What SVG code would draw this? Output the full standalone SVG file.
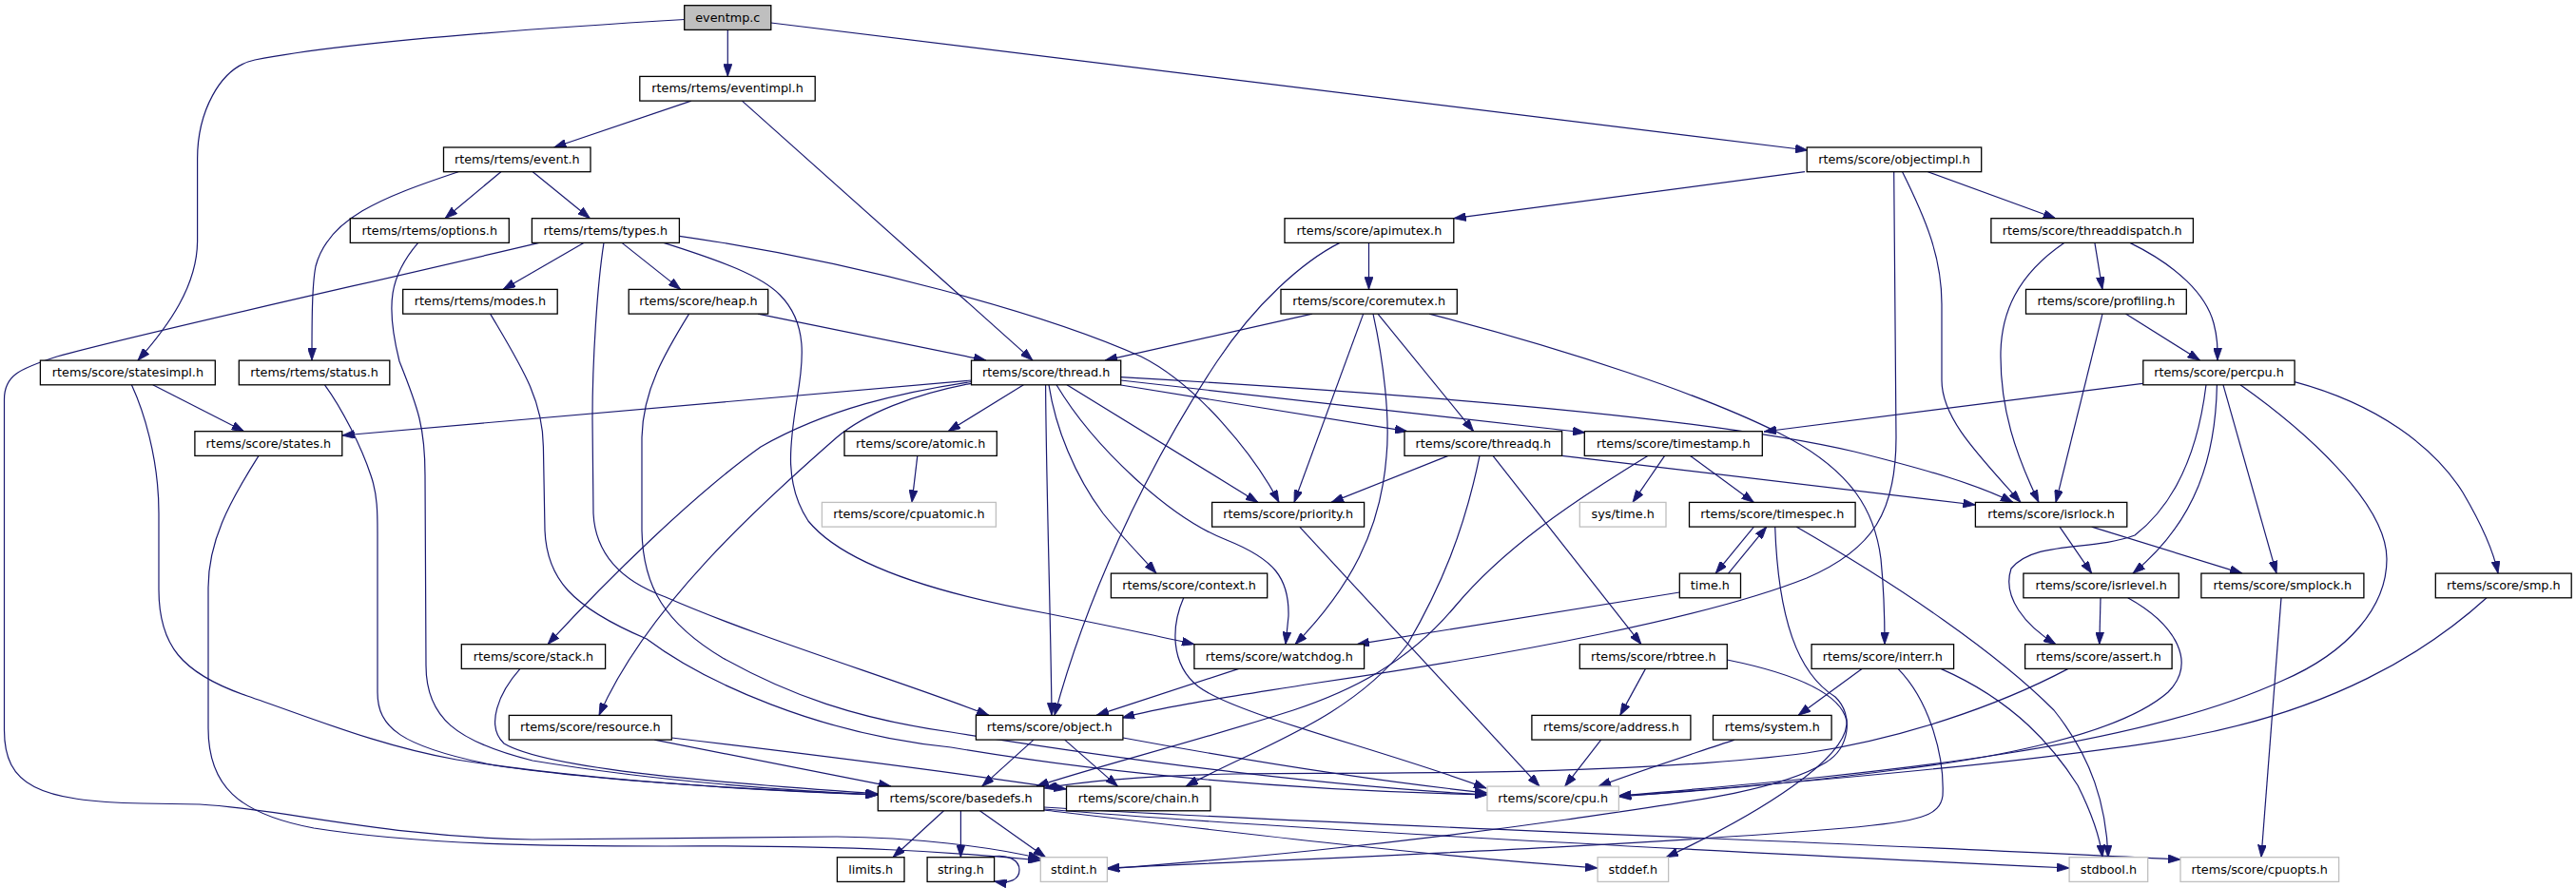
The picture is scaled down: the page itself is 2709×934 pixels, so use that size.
<svg xmlns="http://www.w3.org/2000/svg" width="2709" height="934" viewBox="0 0 2709 934">
<style>
.n rect{fill:#fff;stroke:#000;stroke-width:1.3}
.g rect{fill:#fff;stroke:#bfbfbf;stroke-width:1.3}
.r rect{fill:#bfbfbf;stroke:#000;stroke-width:1.3}
text{font-family:"DejaVu Sans","Liberation Sans",sans-serif;font-size:12.8px;text-anchor:middle;fill:#000}
#edges path{fill:none;stroke:#191970;stroke-width:1.2;marker-end:url(#ah)}
</style>
<defs>
<marker id="ah" viewBox="0 0 13 9" refX="13" refY="4.5" markerWidth="13" markerHeight="9" markerUnits="userSpaceOnUse" orient="auto"><path d="M0,0 L13,4.5 L0,9 z" fill="#191970" stroke="#191970" stroke-width="0.8"/></marker>
</defs>
<rect width="2709" height="934" fill="#fff"/>
<g id="edges">
<path d="M765.3,31.4 L765.3,80.4"/>
<path d="M719.7,20.5 C560,30 360,45 268,63 C230,71 207.6,120 207.6,167 L207.6,253 C207.6,300 178,342 145,379.1"/>
<path d="M810.8,24 L1901,158"/>
<path d="M726.9,106.1 L582.6,155"/>
<path d="M780.4,106.1 L1086,379.1"/>
<path d="M526.8,180.7 L468,229.7"/>
<path d="M560.3,180.7 L620.5,229.7"/>
<path d="M482,180.7 C400,208 345,230 332,280 C328,300 328,340 328,379.1"/>
<path d="M439.7,255.4 C410,290 405,320 420,380 C440,430 447,450 447,500 L448,700 C448,755 480,780 560,800 C680,820 800,830 923.3,836"/>
<path d="M341.5,404.8 C360,430 380,470 390,500 C397,520 397,540 397,560 L397,728 C397,765 420,785 520,805 C640,823 800,831 923.3,836"/>
<path d="M160.7,404.8 L256.7,453.7"/>
<path d="M138.4,404.8 C150,430 167,480 167,540 L167,620 C167,678 190,708 260,732 C330,756 400,785 480,799 C600,818 760,830 923.3,836"/>
<path d="M613.8,255.4 L529,304.4"/>
<path d="M654,255.4 L715.7,304.4"/>
<path d="M714.4,248.3 C900,275 1100,330 1200,375 C1260,405 1320,480 1345,528.4"/>
<path d="M697.9,255.4 C760,275 800,290 820,310 C850,340 845,380 838,420 C830,470 825,510 850,548 C890,597 1000,627 1100,645 C1160,657 1210,667 1256,677.7"/>
<path d="M635,255.4 C628,300 623,380 623,440 L624,540 C626,580 650,610 700,628 C800,672 950,717 1040,752.4"/>
<path d="M567,255.4 C400,295 150,350 60,375 C20,388 4.5,395 4.5,420 L4.5,768 C4.5,826 40,843 150,845 L210,846 C300,851 400,880 560,883 L880,880 C960,881 1040,890 1094.3,903"/>
<path d="M515.6,330.1 C548,385 571,420 571.4,470 L573,558 C575,608 600,638 680,672 C740,717 860,772 1000,786 C1200,820 1400,832 1564,836"/>
<path d="M797,330.1 L1037,379.1"/>
<path d="M724.6,330.1 C700,370 676,410 675,460 L675,558 C676,618 700,656 760,692 C830,731 900,756 1000,770 C1200,802 1400,827 1564,836"/>
<path d="M272,479.4 C240,530 219,570 219,618 L219,766 C219,826 250,856 330,871 C450,890 600,890 700,890 C900,889 1000,896 1094.3,905"/>
<path d="M1021.5,400 L359.8,458"/>
<path d="M1021.5,401.5 C950,412 870,430 800,470 C730,520 640,608 576,677.7"/>
<path d="M1021.5,403.3 C960,415 910,435 880,460 C800,530 680,638 630,752.4"/>
<path d="M1076.4,404.8 L997,453.7"/>
<path d="M1099.6,404.8 C1100,500 1105,650 1106,752.4"/>
<path d="M1103,404.8 C1110,450 1130,500 1160,540 C1180,565 1200,585 1216,603.1"/>
<path d="M1111,404.8 C1150,470 1230,545 1290,568 C1340,588 1356,608 1355,648 L1352,677.7"/>
<path d="M1122,404.8 L1323,528.4"/>
<path d="M1178.7,405 L1480,453.7"/>
<path d="M1178.7,400 L1667,455"/>
<path d="M1178.7,396.7 C1500,415 1800,440 1950,475 C2030,495 2080,510 2117,528.4"/>
<path d="M1380,330.1 L1162,379.1"/>
<path d="M1433.7,330.1 L1361,528.4"/>
<path d="M1444,330.1 C1455,380 1462,440 1458,480 C1452,558 1420,618 1362,677.7"/>
<path d="M1449,330.1 L1549.7,453.7"/>
<path d="M1503,330.1 C1650,368 1790,415 1870,455 C1950,495 1972,540 1978,588 C1982,628 1982,658 1982,677.7"/>
<path d="M1439.5,255.4 L1439.5,304.4"/>
<path d="M1409,255.4 C1370,275 1320,320 1280,380 C1200,500 1140,637 1109,752.4"/>
<path d="M1898,180.7 L1528.8,229.7"/>
<path d="M1991.7,180.7 L1994,460 C1994,538 1970,578 1900,608 C1800,648 1600,687 1380,719 C1300,732 1230,742 1180,755"/>
<path d="M2000.6,180.7 C2025,230 2042,270 2042,320 L2042,400 C2042,440 2080,478 2125,528.4"/>
<path d="M2027.4,180.7 L2161.8,229.7"/>
<path d="M2202.9,255.4 L2210.9,304.4"/>
<path d="M2239.9,255.4 C2290,280 2320,310 2328,340 C2332,355 2332,365 2332,379.1"/>
<path d="M2170.7,255.4 C2120,290 2105,330 2104,370 C2103,430 2120,478 2144,528.4"/>
<path d="M2235.4,330.1 L2313.6,379.1"/>
<path d="M2211,330.1 L2162,528.4"/>
<path d="M2253.3,403.3 L1855,454"/>
<path d="M2320,404.8 C2312,470 2290,528 2245,563 C2200,580 2140,568 2115,598 C2105,628 2130,658 2162,677.7"/>
<path d="M2331.4,404.8 C2330,480 2310,548 2243,603.1"/>
<path d="M2338,404.8 L2394,603.1"/>
<path d="M2356,404.8 C2420,450 2510,528 2510,588 C2510,638 2470,686 2400,716 C2250,785 2000,812 1702.4,837"/>
<path d="M2413,401.7 C2500,425 2560,470 2590,518 C2610,552 2622,578 2627,603.1"/>
<path d="M2166,554.1 L2199.7,603.1"/>
<path d="M2199.7,554.1 L2358,603.1"/>
<path d="M2209,628.8 L2207.8,677.7"/>
<path d="M2237.7,628.8 C2290,658 2310,698 2280,728 C2230,772 2100,797 2000,809 C1900,822 1800,832 1702.4,837"/>
<path d="M2175,703.4 C2100,743 2000,777 1900,792 C1700,818 1400,812 1300,814 C1200,816 1140,822 1098.3,829"/>
<path d="M2399,628.8 L2378,901.7"/>
<path d="M2615,628.8 C2550,688 2450,747 2300,775 C2150,801 1900,822 1702.4,838"/>
<path d="M1958,703.4 L1891,752.4"/>
<path d="M2041,703.4 C2120,738 2160,787 2185,826 C2200,856 2208,878 2211,901.7"/>
<path d="M1996,703.4 C2030,738 2045,797 2043,837 C2040,858 2020,864 1940,871 C1700,891 1400,902 1164.4,913"/>
<path d="M1844.4,554.1 L1804.2,603.1"/>
<path d="M1817.6,603.1 L1857.8,554.1"/>
<path d="M1889,554.1 C2000,618 2100,687 2160,747 C2200,797 2215,847 2217,901.7"/>
<path d="M1866.7,554.1 C1870,650 1890,708 1930,733 C1950,752 1945,787 1920,802 C1870,832 1780,843 1640,863 C1450,890 1300,903 1164.4,914"/>
<path d="M1816.3,694 C1880,707 1935,727 1942,758 C1945,797 1850,856 1752,901.7"/>
<path d="M1730.5,703.4 L1703.75,752.4"/>
<path d="M1683.7,778.1 L1645.7,827.1"/>
<path d="M1824,778.1 C1780,793 1720,812 1681,827.1"/>
<path d="M1366.7,554.1 L1619,827.1"/>
<path d="M1244.7,628.8 C1232,658 1230,698 1260,722 C1300,752 1450,787 1563,829"/>
<path d="M1180.9,776 C1300,798 1450,822 1564,834"/>
<path d="M1087,778.1 L1032.7,827.1"/>
<path d="M1119.7,778.1 L1175.5,827.1"/>
<path d="M1302.8,703.4 L1153,752.4"/>
<path d="M1766.3,623 L1427,677.7"/>
<path d="M1523,479.4 L1400,528.4"/>
<path d="M1570,479.4 L1726,677.7"/>
<path d="M1556,479.4 C1540,558 1515,618 1480,678 C1420,757 1320,787 1247,827.1"/>
<path d="M1642.6,479.4 L2077.4,531"/>
<path d="M1750.6,479.4 L1717,528.4"/>
<path d="M1777.4,479.4 L1844.4,528.4"/>
<path d="M1732.8,479.4 C1650,530 1580,578 1530,638 C1480,698 1420,727 1360,747 C1250,782 1150,807 1090,827.1"/>
<path d="M964.8,479.4 L959,528.4"/>
<path d="M547,703.4 C525,728 510,763 530,782 C580,812 800,826 923.3,835"/>
<path d="M688.3,778.1 L937,827.1"/>
<path d="M706.3,776 C850,793 1000,812 1121.5,830"/>
<path d="M992.5,852.8 L939,901.7"/>
<path d="M1010.4,852.8 L1010.4,901.7"/>
<path d="M1030.4,852.8 L1099.6,901.7"/>
<path d="M1097.9,852 C1300,876 1500,900 1680.1,913"/>
<path d="M1097.9,849 C1400,868 1900,884 2293,904"/>
<path d="M1097.9,851 C1400,876 1900,900 2176.1,913"/>
<path d="M1040,901.7 C1060,897 1072,905 1072,915 C1072,925 1062,930 1045.6,927"/>
</g>
<g id="n_eventmp" class="r"><rect x="719.7" y="5.7" width="91.1" height="25.7"/><text x="765.3" y="22.5">eventmp.c</text></g>
<g id="n_eventimpl" class="n"><rect x="672.8" y="80.4" width="184.4" height="25.7"/><text x="765" y="97.2">rtems/rtems/eventimpl.h</text></g>
<g id="n_objectimpl" class="n"><rect x="1900.2" y="155" width="183.5" height="25.7"/><text x="1992" y="171.8">rtems/score/objectimpl.h</text></g>
<g id="n_event" class="n"><rect x="466.5" y="155" width="154.5" height="25.7"/><text x="543.8" y="171.8">rtems/rtems/event.h</text></g>
<g id="n_options" class="n"><rect x="368.3" y="229.7" width="167" height="25.7"/><text x="451.8" y="246.5">rtems/rtems/options.h</text></g>
<g id="n_types" class="n"><rect x="559.4" y="229.7" width="155" height="25.7"/><text x="636.9" y="246.5">rtems/rtems/types.h</text></g>
<g id="n_apimutex" class="n"><rect x="1351" y="229.7" width="177.8" height="25.7"/><text x="1439.9" y="246.5">rtems/score/apimutex.h</text></g>
<g id="n_threaddispatch" class="n"><rect x="2093.9" y="229.7" width="212.5" height="25.7"/><text x="2200.2" y="246.5">rtems/score/threaddispatch.h</text></g>
<g id="n_modes" class="n"><rect x="423.7" y="304.4" width="162.5" height="25.7"/><text x="505" y="321.2">rtems/rtems/modes.h</text></g>
<g id="n_heap" class="n"><rect x="661.2" y="304.4" width="146.5" height="25.7"/><text x="734.5" y="321.2">rtems/score/heap.h</text></g>
<g id="n_coremutex" class="n"><rect x="1347" y="304.4" width="185.3" height="25.7"/><text x="1439.7" y="321.2">rtems/score/coremutex.h</text></g>
<g id="n_profiling" class="n"><rect x="2130.5" y="304.4" width="168.8" height="25.7"/><text x="2214.9" y="321.2">rtems/score/profiling.h</text></g>
<g id="n_statesimpl" class="n"><rect x="42.4" y="379.1" width="183.9" height="25.7"/><text x="134.4" y="395.9">rtems/score/statesimpl.h</text></g>
<g id="n_status" class="n"><rect x="251.3" y="379.1" width="158.5" height="25.7"/><text x="330.6" y="395.9">rtems/rtems/status.h</text></g>
<g id="n_thread" class="n"><rect x="1021.5" y="379.1" width="157.2" height="25.7"/><text x="1100.1" y="395.9">rtems/score/thread.h</text></g>
<g id="n_percpu" class="n"><rect x="2253.8" y="379.1" width="159.3" height="25.7"/><text x="2333.5" y="395.9">rtems/score/percpu.h</text></g>
<g id="n_states" class="n"><rect x="204.9" y="453.7" width="154.9" height="25.7"/><text x="282.4" y="470.5">rtems/score/states.h</text></g>
<g id="n_atomic" class="n"><rect x="888" y="453.7" width="160.3" height="25.7"/><text x="968.2" y="470.5">rtems/score/atomic.h</text></g>
<g id="n_threadq" class="n"><rect x="1477" y="453.7" width="165.6" height="25.7"/><text x="1559.8" y="470.5">rtems/score/threadq.h</text></g>
<g id="n_timestamp" class="n"><rect x="1666.3" y="453.7" width="187" height="25.7"/><text x="1759.8" y="470.5">rtems/score/timestamp.h</text></g>
<g id="n_cpuatomic" class="g"><rect x="864.4" y="528.4" width="183" height="25.7"/><text x="955.9" y="545.2">rtems/score/cpuatomic.h</text></g>
<g id="n_priority" class="n"><rect x="1274.6" y="528.4" width="160" height="25.7"/><text x="1354.6" y="545.2">rtems/score/priority.h</text></g>
<g id="n_systime" class="g"><rect x="1661.3" y="528.4" width="90.7" height="25.7"/><text x="1706.7" y="545.2">sys/time.h</text></g>
<g id="n_timespec" class="n"><rect x="1776.5" y="528.4" width="174.6" height="25.7"/><text x="1863.8" y="545.2">rtems/score/timespec.h</text></g>
<g id="n_isrlock" class="n"><rect x="2077.4" y="528.4" width="159.4" height="25.7"/><text x="2157.1" y="545.2">rtems/score/isrlock.h</text></g>
<g id="n_context" class="n"><rect x="1168.4" y="603.1" width="164.3" height="25.7"/><text x="1250.6" y="619.9">rtems/score/context.h</text></g>
<g id="n_time" class="n"><rect x="1766.3" y="603.1" width="64.2" height="25.7"/><text x="1798.4" y="619.9">time.h</text></g>
<g id="n_isrlevel" class="n"><rect x="2127.9" y="603.1" width="163.4" height="25.7"/><text x="2209.6" y="619.9">rtems/score/isrlevel.h</text></g>
<g id="n_smplock" class="n"><rect x="2314.9" y="603.1" width="171" height="25.7"/><text x="2400.4" y="619.9">rtems/score/smplock.h</text></g>
<g id="n_smp" class="n"><rect x="2561.3" y="603.1" width="142.9" height="25.7"/><text x="2632.8" y="619.9">rtems/score/smp.h</text></g>
<g id="n_stack" class="n"><rect x="485.3" y="677.7" width="151.3" height="25.7"/><text x="561" y="694.5">rtems/score/stack.h</text></g>
<g id="n_watchdog" class="n"><rect x="1255.9" y="677.7" width="178.7" height="25.7"/><text x="1345.3" y="694.5">rtems/score/watchdog.h</text></g>
<g id="n_rbtree" class="n"><rect x="1661.3" y="677.7" width="155" height="25.7"/><text x="1738.8" y="694.5">rtems/score/rbtree.h</text></g>
<g id="n_interr" class="n"><rect x="1905.1" y="677.7" width="149.5" height="25.7"/><text x="1979.9" y="694.5">rtems/score/interr.h</text></g>
<g id="n_assert" class="n"><rect x="2129.6" y="677.7" width="154.5" height="25.7"/><text x="2206.9" y="694.5">rtems/score/assert.h</text></g>
<g id="n_resource" class="n"><rect x="535.3" y="752.4" width="171" height="25.7"/><text x="620.8" y="769.2">rtems/score/resource.h</text></g>
<g id="n_object" class="n"><rect x="1026.4" y="752.4" width="154.5" height="25.7"/><text x="1103.7" y="769.2">rtems/score/object.h</text></g>
<g id="n_address" class="n"><rect x="1610.9" y="752.4" width="167" height="25.7"/><text x="1694.4" y="769.2">rtems/score/address.h</text></g>
<g id="n_system" class="n"><rect x="1801.5" y="752.4" width="124.6" height="25.7"/><text x="1863.8" y="769.2">rtems/system.h</text></g>
<g id="n_basedefs" class="n"><rect x="923.3" y="827.1" width="174.6" height="25.7"/><text x="1010.6" y="843.9">rtems/score/basedefs.h</text></g>
<g id="n_chain" class="n"><rect x="1121.5" y="827.1" width="151.4" height="25.7"/><text x="1197.2" y="843.9">rtems/score/chain.h</text></g>
<g id="n_cpu" class="g"><rect x="1564" y="827.1" width="138.4" height="25.7"/><text x="1633.2" y="843.9">rtems/score/cpu.h</text></g>
<g id="n_limits" class="n"><rect x="880.4" y="901.7" width="70.6" height="25.7"/><text x="915.7" y="918.5">limits.h</text></g>
<g id="n_string" class="n"><rect x="975.1" y="901.7" width="70.5" height="25.7"/><text x="1010.4" y="918.5">string.h</text></g>
<g id="n_stdint" class="g"><rect x="1094.3" y="901.7" width="70.1" height="25.7"/><text x="1129.4" y="918.5">stdint.h</text></g>
<g id="n_stddef" class="g"><rect x="1680.1" y="901.7" width="74.5" height="25.7"/><text x="1717.4" y="918.5">stddef.h</text></g>
<g id="n_stdbool" class="g"><rect x="2176.1" y="901.7" width="82.6" height="25.7"/><text x="2217.4" y="918.5">stdbool.h</text></g>
<g id="n_cpuopts" class="g"><rect x="2293" y="901.7" width="166.6" height="25.7"/><text x="2376.3" y="918.5">rtems/score/cpuopts.h</text></g>
</svg>
